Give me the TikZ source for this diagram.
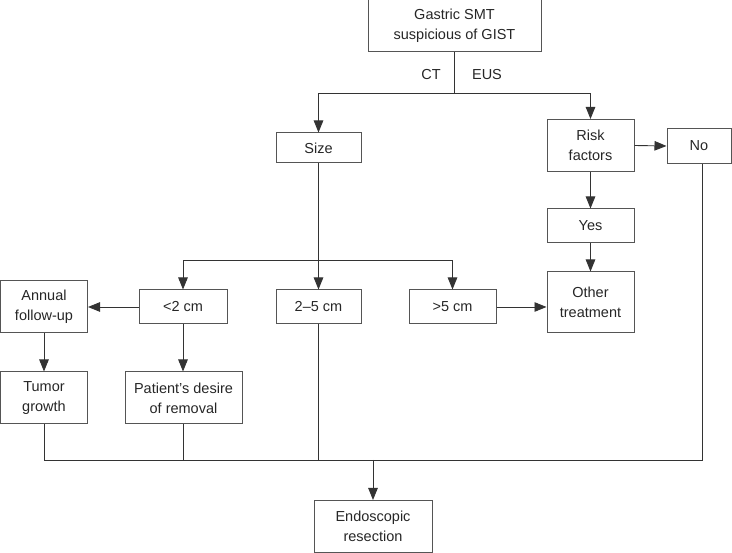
\documentclass[tikz,border=0pt]{standalone}
\usepackage{fontspec}
\setmainfont{Liberation Sans}
\usetikzlibrary{arrows.meta}
\definecolor{boxcol}{HTML}{555555}
\definecolor{linecol}{HTML}{333333}

\begin{document}
\begin{tikzpicture}[x=1pt,y=-1pt,
          box/.style={draw=boxcol,line width=1pt,align=center,inner sep=0pt,
            font=\fontsize{14.5}{20}\selectfont,text=black!85},
          con/.style={linecol,line width=0.9pt},
          arr/.style={con,-{Triangle[length=12pt,width=9.5pt]}}
        ]
        \useasboundingbox (0,0) rectangle (732,553);
        \node[box,minimum width=173pt,minimum height=52pt] (gist) at (454.5,26) {Gastric SMT\\suspicious of GIST};
        \node[box,minimum width=85pt,minimum height=30pt] (size) at (318.5,148) {Size};
        \node[box,minimum width=87pt,minimum height=52pt] (risk) at (590.5,145.5) {Risk\\factors};
        \node[box,minimum width=64pt,minimum height=35pt] (no) at (699,146) {No};
        \node[box,minimum width=87pt,minimum height=34pt] (yes) at (590.5,226) {Yes};
        \node[box,minimum width=88pt,minimum height=34pt] (small) at (183,307) {<2 cm};
        \node[box,minimum width=85pt,minimum height=34pt] (mid) at (318.5,307) {2–5 cm};
        \node[box,minimum width=87pt,minimum height=34pt] (large) at (452.5,307) {>5 cm};
        \node[box,minimum width=87pt,minimum height=61pt] (other) at (590.5,302.5) {Other\\treatment};
        \node[box,minimum width=87pt,minimum height=52pt] (annual) at (44,307) {Annual\\follow-up};
        \node[box,minimum width=87pt,minimum height=52pt] (tumor) at (44,398) {Tumor\\growth};
        \node[box,minimum width=117pt,minimum height=52pt] (desire) at (183.5,398) {Patient’s desire\\of removal};
        \node[box,minimum width=118pt,minimum height=52pt] (endo) at (373,526.5) {Endoscopic\\resection};
        \node[font=\fontsize{14.5}{20}\selectfont,text=black!85] (ct) at (431,75) {CT};
        \node[font=\fontsize{14.5}{20}\selectfont,text=black!85] (eus) at (487,75) {EUS};
        \coordinate (split) at (454.5,93);
        \coordinate (sizesplit) at (318.5,260);
        \coordinate (join) at (373,460);
        \draw[con] (gist.south) -- (split);
        \draw[arr] (split) -| (size.north);
        \draw[arr] (split) -| (risk.north);
        \draw[arr] (risk.east) -- (no.west);
        \draw[arr] (risk.south) -- (yes.north);
        \draw[arr] (yes.south) -- (other.north);
        \draw[con] (size.south) -- (sizesplit);
        \draw[arr] (sizesplit) -| (small.north);
        \draw[arr] (sizesplit) -- (mid.north);
        \draw[arr] (sizesplit) -| (large.north);
        \draw[arr] (small.west) -- (annual.east);
        \draw[arr] (large.east) -- (other.west |- large.east);
        \draw[arr] (annual.south) -- (tumor.north);
        \draw[arr] (small.south) -- (desire.north -| small.south);
        \draw[con] (tumor.south) |- (join);
        \draw[con] (desire.south -| small.south) -- (join -| small.south);
        \draw[con] (mid.south) -- (join -| mid.south);
        \draw[con] ([xshift=3pt]no.south) |- (join);
        \draw[arr] (join) -- (endo.north);
      \end{tikzpicture}
\end{document}
